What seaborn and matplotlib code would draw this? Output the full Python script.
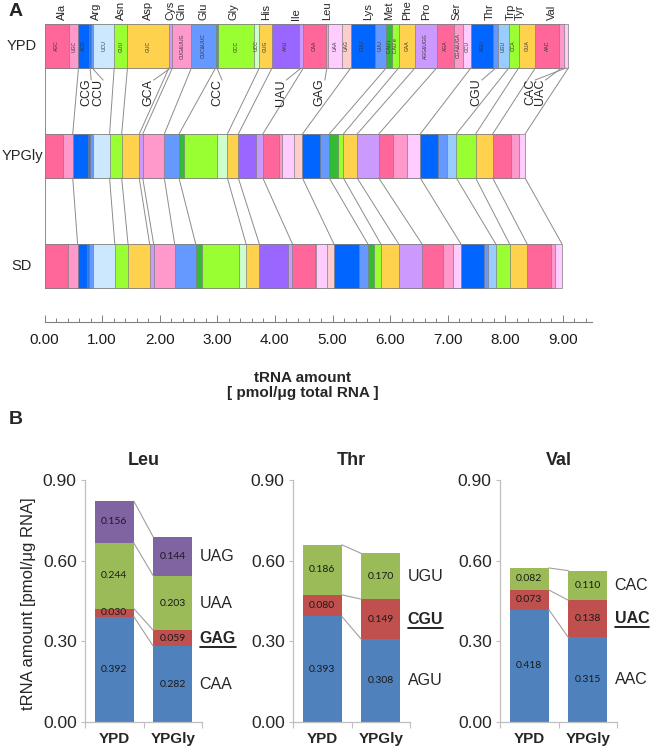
import numpy as np
import pandas as pd
import seaborn as sns
import matplotlib.pyplot as plt
from matplotlib.ticker import MultipleLocator, FormatStrFormatter
from matplotlib.lines import Line2D

# ---- panel A data: tRNA species in bar order (pmol/ug total RNA) ----
amino = ['Ala', 'Ala', 'Arg', 'Arg', 'Arg', 'Arg', 'Asn', 'Asp', 'Cys', 'Gln', 'Glu',
         'Gly', 'Gly', 'Gly', 'His', 'Ile', 'Ile', 'Leu', 'Leu', 'Leu', 'Leu',
         'Lys', 'Lys', 'Met', 'Met', 'Phe', 'Pro', 'Ser', 'Ser', 'Ser',
         'Thr', 'Thr', 'Thr', 'Trp', 'Tyr', 'Val', 'Val', 'Val']
codons = ['AGC', 'UGC', 'ACG', 'CCG', 'CCU', 'UCU', 'GUU', 'GUC', 'GCA', 'CUG&UUG', 'CUC&UUC',
          'CCC', 'GCC', 'UCC', 'GUG', 'AAU', 'UAU', 'CAA', 'GAG', 'UAA', 'UAG',
          'CUU', 'UUU', 'CAU i', 'CAU e', 'GAA', 'AGG&UGG', 'AGA', 'CGA&UGA', 'GCU',
          'AGU', 'CGU', 'UGU', 'CCA', 'GUA', 'AAC', 'UAC', 'CAC']
ypd = [0.43, 0.16, 0.19, 0.025, 0.045, 0.36, 0.23, 0.72, 0.06, 0.33, 0.42,
       0.05, 0.61, 0.10, 0.22, 0.47, 0.075, 0.392, 0.030, 0.244, 0.156,
       0.415, 0.20, 0.10, 0.115, 0.285, 0.375, 0.305, 0.155, 0.135,
       0.393, 0.080, 0.186, 0.17, 0.29, 0.418, 0.073, 0.082]
ypgly = [0.32, 0.17, 0.26, 0.035, 0.065, 0.28, 0.21, 0.305, 0.06, 0.375, 0.255,
         0.09, 0.57, 0.18, 0.19, 0.31, 0.115, 0.282, 0.059, 0.203, 0.144,
         0.305, 0.16, 0.155, 0.09, 0.24, 0.375, 0.24, 0.25, 0.23,
         0.308, 0.149, 0.170, 0.335, 0.295, 0.315, 0.138, 0.110]
sd = [0.415, 0.16, 0.165, 0.035, 0.07, 0.375, 0.23, 0.375, 0.07, 0.365, 0.365,
      0.11, 0.635, 0.13, 0.23, 0.50, 0.075, 0.385, 0.02, 0.20, 0.115,
      0.43, 0.16, 0.11, 0.115, 0.31, 0.405, 0.355, 0.175, 0.145,
      0.40, 0.075, 0.13, 0.24, 0.305, 0.405, 0.085, 0.115]
conds = ['YPD', 'YPGly', 'SD']

seg_colors = ['#FF6699', '#FF99CC', '#0066FF', '#3377DD', '#6699FF', '#CCE8FF', '#99FF33', '#FFD24D',
              '#CC99FF', '#FF99CC', '#6699FF', '#33BB33', '#99FF33', '#CCFFCC', '#FFD24D', '#9966FF',
              '#CC99FF', '#FF6699', '#FF99CC', '#FFCCFF', '#FFCCCC', '#0066FF', '#6699FF', '#33BB33',
              '#99FF33', '#FFD24D', '#CC99FF', '#FF6699', '#FF99CC', '#FFCCFF', '#0066FF', '#6699FF',
              '#99CCFF', '#99FF33', '#FFD24D', '#FF6699', '#FF99CC', '#FFCCFF']

# ---- panel B data ----
leu_codons = ['CAA', 'GAG', 'UAA', 'UAG']
leu_ypd = [0.392, 0.030, 0.244, 0.156]
leu_ypgly = [0.282, 0.059, 0.203, 0.144]
thr_codons = ['AGU', 'CGU', 'UGU']
thr_ypd = [0.393, 0.080, 0.186]
thr_ypgly = [0.308, 0.149, 0.170]
val_codons = ['AAC', 'UAC', 'CAC']
val_ypd = [0.418, 0.073, 0.082]
val_ypgly = [0.315, 0.138, 0.110]
b_colors = ['#4F81BD', '#C0504D', '#9BBB59', '#8064A2']

sns.set_theme(style='white')
plt.rcParams['font.family'] = ['Liberation Sans', 'DejaVu Sans']

W, H = 651, 748
fig = plt.figure(figsize=(W / 100, H / 100), dpi=100)

# ================= panel A =================
PX = 57.6   # pixels per pmol/ug
X0 = 44.5
axA = fig.add_axes([X0 / W, 1 - 321.7 / H, 9.5 * PX / W, 321.7 / H])
cum = {'YPD': np.cumsum(ypd), 'YPGly': np.cumsum(ypgly), 'SD': np.cumsum(sd)}

# stacked bars drawn as overlapping cumulative bars, longest first
for i in range(len(codons) - 1, -1, -1):
    d = pd.DataFrame({'cond': conds, 'amount': [cum[c][i] for c in conds]})
    sns.barplot(data=d, x='amount', y='cond', order=conds, orient='y', color=seg_colors[i],
                saturation=1, width=0.4, edgecolor='#7f7f7f', linewidth=0.5, errorbar=None, ax=axA)

axA.set_xlim(0, 9.5)
axA.set_ylim(2.506, -0.418)
axA.set_yticks([])
axA.set_xlabel('')
axA.set_ylabel('')
for s in ['left', 'top', 'right']:
    axA.spines[s].set_visible(False)
axA.spines['bottom'].set_color('#808080')
axA.spines['bottom'].set_linewidth(0.8)
axA.xaxis.set_major_locator(MultipleLocator(1))
axA.xaxis.set_minor_locator(MultipleLocator(0.2))
axA.xaxis.set_major_formatter(FormatStrFormatter('%.2f'))
axA.tick_params(axis='x', which='both', bottom=True, direction='in', color='#808080', width=0.7)
axA.tick_params(axis='x', which='major', length=5, labelsize=11, pad=8, labelcolor='#1a1a1a')
axA.tick_params(axis='x', which='minor', length=3)

for k, c in enumerate(conds):
    axA.text(-22.5 / PX, k, c, ha='center', va='center', fontsize=10.5, clip_on=False)

# boundaries between amino acids + connector lines
starts = np.concatenate([[0], cum['YPD'][:-1]])
bounds = [0]
aa_order = []
for i, a in enumerate(amino):
    if i == len(amino) - 1 or amino[i + 1] != a:
        bounds.append(i)
    if a not in aa_order:
        aa_order.append(a)
for j, b in enumerate(bounds):
    vals = [0.0, 0.0, 0.0] if j == 0 else [cum[c][b] for c in conds]
    axA.plot([vals[0], vals[1]], [0.2, 0.8], color='#8c8c8c', lw=0.7)
    axA.plot([vals[1], vals[2]], [1.2, 1.8], color='#8c8c8c', lw=0.7)

# amino acid names on top
aa_shift = {'Gly': -4, 'Ile': 8, 'Met': -3, 'Ser': 3, 'Trp': -3, 'Tyr': -7}
for a in aa_order:
    idx = [i for i, x in enumerate(amino) if x == a]
    ctr = (starts[idx[0]] + cum['YPD'][idx[-1]]) / 2 + aa_shift.get(a, 0) / PX
    axA.text(ctr, -0.236, a, rotation=90, ha='center', va='bottom', fontsize=8, clip_on=False)

# codon names inside YPD segments / thin ones labelled in the gap
gap_shift = {'CCG': -4, 'CCU': 6, 'GCA': -22, 'CCC': 0, 'UAU': -20, 'GAG': -7,
             'CGU': -19, 'CAC': -36, 'UAC': -21}
for i, cd in enumerate(codons):
    mid = starts[i] + ypd[i] / 2
    if ypd[i] >= 0.09:
        axA.text(mid, 0, cd, rotation=90, ha='center', va='center', fontsize=3.6, color='#333333')
    else:
        lx = mid + gap_shift[cd] / PX
        axA.text(lx, 0.42, cd, rotation=90, ha='center', va='center', fontsize=9)
        axA.plot([lx + 5 / PX, mid], [0.31, 0.2], color='#8c8c8c', lw=0.7)

fig.text(9 / W, 1 - 11 / H, 'A', fontsize=14, fontweight='bold', va='center')
fig.text(9 / W, 1 - 419 / H, 'B', fontsize=14, fontweight='bold', va='center')
fig.text(303 / W, 1 - 378 / H, 'tRNA amount', fontsize=11, fontweight='bold', ha='center', va='center')
fig.text(303 / W, 1 - 393 / H, '[ pmol/μg total RNA ]', fontsize=11, fontweight='bold', ha='center', va='center')

# ================= panel B =================
panels = [('Leu', leu_codons, leu_ypd, leu_ypgly, 85),
          ('Thr', thr_codons, thr_ypd, thr_ypgly, 293),
          ('Val', val_codons, val_ypd, val_ypgly, 500)]
bw = 0.667
underline = []
for name, cods, a, b, left in panels:
    ax = fig.add_axes([left / W, 1 - 722 / H, 117 / W, 242 / H])
    ca, cb = np.cumsum(a), np.cumsum(b)
    for k in range(len(cods) - 1, -1, -1):
        d = pd.DataFrame({'medium': ['YPD', 'YPGly'], 'amount': [ca[k], cb[k]]})
        sns.barplot(data=d, x='medium', y='amount', color=b_colors[k], saturation=1,
                    width=bw, linewidth=0, errorbar=None, ax=ax)
    for k in range(len(cods)):
        ax.plot([bw / 2, 1 - bw / 2], [ca[k], cb[k]], color='#a0a0a0', lw=0.8)
        ax.text(0, ca[k] - a[k] / 2, f'{a[k]:.3f}', ha='center', va='center', fontsize=7.5,
                family=['Lato', 'DejaVu Sans'], color='#1a1a1a')
        ax.text(1, cb[k] - b[k] / 2, f'{b[k]:.3f}', ha='center', va='center', fontsize=7.5,
                family=['Lato', 'DejaVu Sans'], color='#1a1a1a')
        t = ax.text(1.46, cb[k] - b[k] / 2, cods[k], ha='left', va='center', fontsize=11.5,
                    fontweight='bold' if k == 1 else 'normal', clip_on=False)
        if k == 1:
            underline.append(t)
    ax.set_xlim(-0.5, 1.5)
    ax.set_ylim(0, 0.9)
    ax.set_yticks([0, 0.3, 0.6, 0.9])
    ax.yaxis.set_major_formatter(FormatStrFormatter('%.2f'))
    ax.set_xticks([0, 1])
    ax.set_xticklabels(['YPD', 'YPGly'], fontweight='bold', fontsize=11)
    ax.set_xticks([-0.5, 0.5, 1.5], minor=True)
    ax.tick_params(axis='y', left=True, length=3, color='#BFBFBF', width=0.8, labelsize=12.5, pad=3)
    ax.tick_params(axis='x', which='major', length=0, pad=7)
    ax.tick_params(axis='x', which='minor', bottom=True, length=4, color='#BFBFBF', width=0.8)
    for s in ['top', 'right']:
        ax.spines[s].set_visible(False)
    for s in ['left', 'bottom']:
        ax.spines[s].set_color('#BFBFBF')
        ax.spines[s].set_linewidth(0.9)
    ax.set_xlabel('')
    ax.set_ylabel('')
    ax.set_title(name, fontweight='bold', fontsize=13, pad=11)
    if name == 'Leu':
        ax.set_ylabel('tRNA amount [pmol/μg RNA]', fontsize=12)
        ax.yaxis.set_label_coords(-0.42, 0.49)

# underline the highlighted codons
fig.canvas.draw()
r = fig.canvas.get_renderer()
for t in underline:
    bb = t.get_window_extent(r).transformed(fig.transFigure.inverted())
    fig.add_artist(Line2D([bb.x0, bb.x1], [bb.y0 - 1 / H, bb.y0 - 1 / H], color='black', lw=1.2))

fig.savefig('out.png', dpi=100)
